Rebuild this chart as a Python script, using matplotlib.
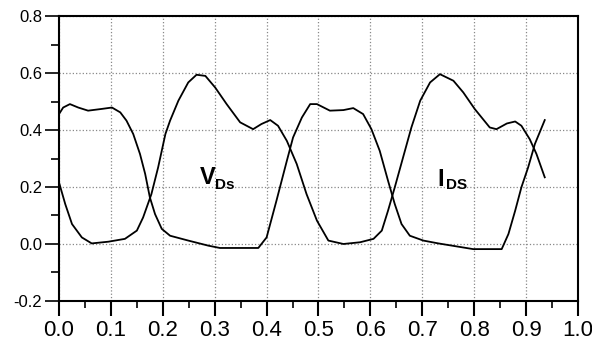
import matplotlib
matplotlib.use("Agg")
import matplotlib.pyplot as plt
from matplotlib.ticker import MultipleLocator

plt.rcParams['font.family'] = ['Liberation Sans', 'DejaVu Sans']

# curve that starts high (about 0.45) at t=0
t_a = [0.0, 0.008, 0.021, 0.037, 0.056, 0.082, 0.102, 0.118, 0.13, 0.143, 0.156,
       0.166, 0.175, 0.185, 0.198, 0.214, 0.249, 0.288, 0.31, 0.384, 0.4, 0.419,
       0.439, 0.451, 0.468, 0.484, 0.497, 0.522, 0.548, 0.567, 0.586, 0.602, 0.618,
       0.634, 0.647, 0.66, 0.676, 0.702, 0.731, 0.798, 0.853, 0.866, 0.879, 0.891,
       0.904, 0.917, 0.936]
v_a = [0.456, 0.479, 0.491, 0.479, 0.468, 0.474, 0.479, 0.462, 0.433, 0.386, 0.316,
       0.246, 0.164, 0.105, 0.053, 0.029, 0.012, -0.006, -0.014, -0.014, 0.023, 0.152,
       0.292, 0.374, 0.444, 0.491, 0.491, 0.468, 0.47, 0.477, 0.456, 0.403, 0.327,
       0.222, 0.14, 0.07, 0.029, 0.012, 0.002, -0.018, -0.018, 0.035, 0.117, 0.199,
       0.269, 0.351, 0.435]

# curve that starts low (about 0.22) at t=0
t_b = [0.0, 0.012, 0.025, 0.044, 0.063, 0.095, 0.127, 0.15, 0.162, 0.178, 0.191,
       0.205, 0.214, 0.23, 0.249, 0.265, 0.282, 0.301, 0.323, 0.349, 0.374, 0.39,
       0.407, 0.422, 0.439, 0.458, 0.477, 0.497, 0.519, 0.548, 0.58, 0.606, 0.622,
       0.634, 0.647, 0.663, 0.679, 0.696, 0.715, 0.734, 0.76, 0.779, 0.801, 0.83,
       0.843, 0.863, 0.879, 0.891, 0.907, 0.92, 0.936]
v_b = [0.216, 0.14, 0.07, 0.023, 0.002, 0.008, 0.018, 0.047, 0.093, 0.175, 0.269,
       0.386, 0.433, 0.503, 0.567, 0.594, 0.59, 0.549, 0.491, 0.427, 0.403, 0.421,
       0.435, 0.415, 0.362, 0.281, 0.175, 0.082, 0.012, 0.0, 0.006, 0.018, 0.047,
       0.117, 0.199, 0.304, 0.409, 0.503, 0.567, 0.596, 0.573, 0.532, 0.474, 0.409,
       0.403, 0.423, 0.43, 0.415, 0.368, 0.316, 0.234]

fig = plt.figure(figsize=(5.92, 3.42), dpi=100)
ax = fig.add_axes([0.0997, 0.12, 0.8766, 0.833])

ax.plot(t_a, v_a, color="black", lw=1.3)
ax.plot(t_b, v_b, color="black", lw=1.3)

ax.set_xlim(0, 1.0)
ax.set_ylim(-0.2, 0.8)
ax.xaxis.set_major_locator(MultipleLocator(0.1))
ax.xaxis.set_minor_locator(MultipleLocator(0.05))
ax.yaxis.set_major_locator(MultipleLocator(0.2))
ax.yaxis.set_minor_locator(MultipleLocator(0.1))
ax.xaxis.set_major_formatter(lambda v, p: f"{v:.1f}")
ax.yaxis.set_major_formatter(lambda v, p: f"{v:.1f}")

ax.grid(True, which="major", color="#888888", ls=":", lw=0.9)
for s in ax.spines.values():
    s.set_linewidth(1.5)
    s.set_color("black")

ax.tick_params(axis="x", which="major", direction="out", length=11, width=1.5, pad=3)
ax.tick_params(axis="x", which="minor", direction="out", length=5, width=1.2)
ax.tick_params(axis="y", which="major", direction="out", length=10, width=1.2, pad=2, labelsize=12)
ax.tick_params(axis="y", which="minor", direction="out", length=6, width=1.2)
# x labels in the scan are taller than the y labels
for lab in ax.get_xticklabels():
    lab.set_family(['Liberation Sans Narrow', 'Liberation Sans'])
    lab.set_fontsize(16)

ax.text(0.272, 0.21, "V", fontsize=17, fontweight="bold", va="baseline",
        family=['Liberation Sans Narrow', 'Liberation Sans'])
ax.text(0.301, 0.192, "Ds", fontsize=11, fontweight="bold", va="baseline")
ax.text(0.729, 0.205, "I", fontsize=17, fontweight="bold", va="baseline",
        family=['Liberation Sans Narrow', 'Liberation Sans'])
ax.text(0.746, 0.192, "DS", fontsize=11, fontweight="bold", va="baseline")

fig.savefig("out.png", dpi=100)
